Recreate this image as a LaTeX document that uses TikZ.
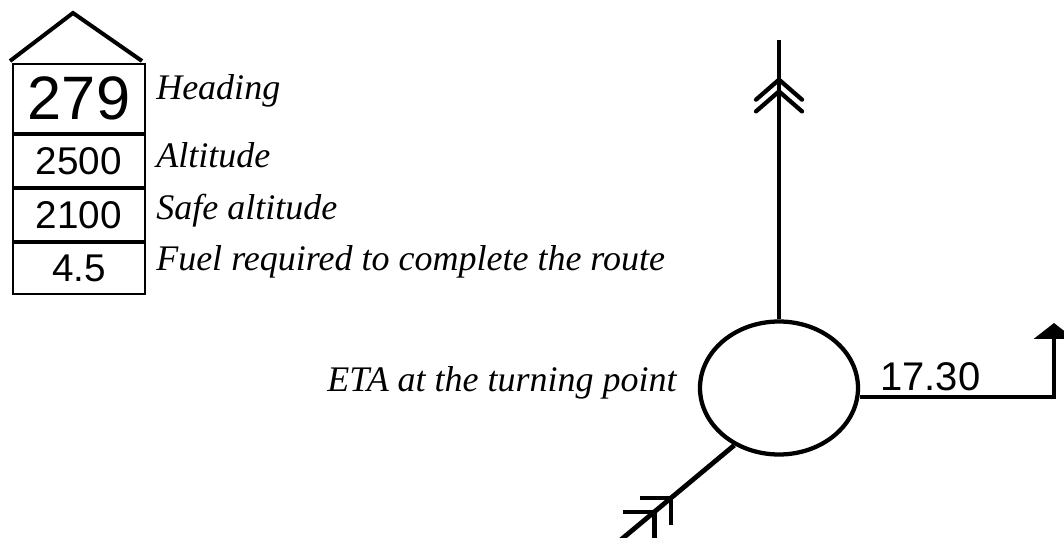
\documentclass[tikz,border=0pt]{standalone}
\usepackage{fontspec}
\setmainfont{Liberation Serif}
\setsansfont{Liberation Sans}
\usetikzlibrary{positioning,shapes.geometric,arrows.meta}

\begin{document}
\begin{tikzpicture}[
  x=0.75pt, y=-0.75pt,
  numbox/.style={rectangle, draw, line width=1.5pt, minimum width=99pt, inner sep=0pt, font=\sffamily\fontsize{29}{29}\selectfont},
  lbl/.style={anchor=base west, inner sep=0pt, font=\itshape\fontsize{27}{27}\selectfont},
  route/.style={line width=3.6pt},
  tick/.style={line width=3.2pt, line cap=round},
  feather/.style={line width=3.2pt}
]
\useasboundingbox (0,0) rectangle (1064,538);

% flight log column
\node[numbox, minimum height=51.75pt, anchor=north west, font=\sffamily\fontsize{46}{46}\selectfont] (hdg) at (12,63) {279};
\node[numbox, minimum height=39pt, below=0pt of hdg] (alt) {2500};
\node[numbox, minimum height=39pt, below=0pt of alt] (safe) {2100};
\node[numbox, minimum height=38.25pt, below=0pt of safe] (fuel) {4.5};
\coordinate (apex) at (73,13);
\draw[line width=3pt] ([xshift=-1.5pt,yshift=1.5pt]hdg.north west) -- (apex) -- ([xshift=-3pt,yshift=1.5pt]hdg.north east);

\node[lbl] (hdgLbl) at (156,100) {Heading};
\node[lbl] (altLbl) at (156,168) {Altitude};
\node[lbl] (safeLbl) at (156,220) {Safe altitude};
\node[lbl] (fuelLbl) at (156,271) {Fuel required to complete the route};

% turning point
\node[ellipse, draw, line width=3.2pt, minimum width=118.5pt, minimum height=99.75pt, inner sep=0pt] (tp) at (779,388) {};
\node[lbl, anchor=base east] (etaLbl) at (677,392) {ETA at the turning point};

% inbound leg
\coordinate (inEnd) at (611,548);
\draw[route] (tp.232) -- coordinate[pos=0.516] (f1) coordinate[pos=0.648] (f2) (inEnd);
\foreach \f in {f1,f2}
  \draw[feather] (\f) ++(-31,0) -- (\f) -- ++(0,27);

% outbound leg
\coordinate (outEnd) at (779,40);
\draw[route] (tp.north) -- coordinate[pos=0.858] (chevA) coordinate[pos=0.816] (chevB) (outEnd);
\foreach \c in {chevA,chevB}
  \draw[tick] (\c) ++(-23,20) -- (\c) -- ++(23,20);

% time leg
\coordinate (legEnd) at (1054,397);
\coordinate (legTip) at (1054,323);
\draw[route, -{Triangle[length=12pt,width=30pt]}] (tp.east |- legEnd) -- (legEnd) -- (legTip);
\node[anchor=base west, inner sep=0pt, font=\sffamily\fontsize{30}{30}\selectfont] (etaVal) at (880,390) {17.30};
\end{tikzpicture}
\end{document}
